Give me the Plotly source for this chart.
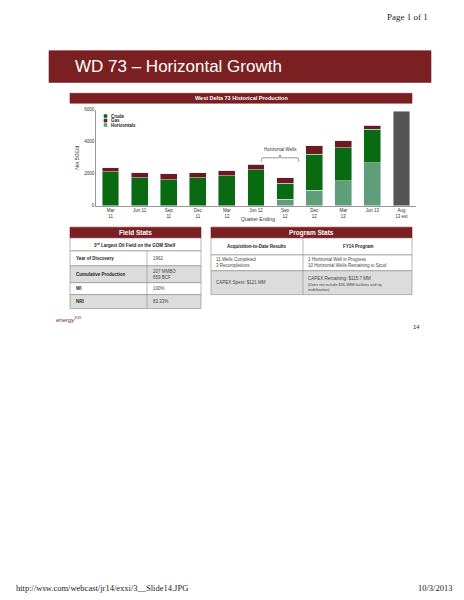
import plotly.graph_objects as go

W, H = 464, 600
quarters = ["Mar<br>11", "Jun 11", "Sep<br>11", "Dec<br>11", "Mar<br>12", "Jun 12", "Sep<br>12", "Dec<br>12", "Mar<br>13", "Jun 13", "Aug<br>13 est"]
horizontals = [0, 0, 0, 0, 0, 0, 390, 970, 1570, 2690, 0]
crude = [2110, 1760, 1635, 1760, 1860, 2240, 1020, 2260, 2070, 2110, 0]
gas = [270, 290, 355, 290, 330, 350, 330, 520, 440, 250, 0]
estimate = [0, 0, 0, 0, 0, 0, 0, 0, 0, 0, 5920]
y_ticks = [0, 2000, 4000, 6000]
COL = {"Crude": "#0a6a12", "Gas": "#6b1a1f", "Horizontals": "#5f9e7a"}

def px(x): return x / W
def py(y): return 1 - y / H

fig = go.Figure()
fig.add_bar(x=quarters, y=horizontals, name="Horizontals", marker_color=COL["Horizontals"])
fig.add_bar(x=quarters, y=crude, name="Crude", marker_color=COL["Crude"])
fig.add_bar(x=quarters, y=gas, name="Gas", marker_color=COL["Gas"])
fig.add_bar(x=quarters, y=estimate, name="Estimate", marker_color="#555555")

shapes, ann = [], []
def rect(x0, y0, x1, y1, color, line=None):
    shapes.append(dict(type="rect", xref="paper", yref="paper", x0=px(x0), x1=px(x1), y0=py(y1), y1=py(y0),
                       fillcolor=color, line=dict(color=line or color, width=0.6), layer="below"))
def text(x, y, s, size=5, color="#222", xanchor="left", bold=False, family="Arial, Liberation Sans"):
    if bold: s = "<b>" + s + "</b>"
    ann.append(dict(xref="paper", yref="paper", x=px(x), y=py(y), text=s, showarrow=False, xanchor=xanchor,
                    yanchor="middle", font=dict(size=size, color=color, family=family), align="left"))

# header
rect(41, 41, 423, 73, "#7a1f22")
text(65, 57, "WD 73 – Horizontal Growth", 17, "white")
text(422, 7, "Page 1 of 1", 9, "#222", "right", family="Liberation Serif")
# chart title
rect(62, 84, 404, 94, "#7a1f22")
text(233, 89, "West Delta 73 Historical Production", 5.5, "white", "center", True)
text(250, 211, "Quarter Ending", 5, "#333", "center")
# legend
for i, k in enumerate(["Crude", "Gas", "Horizontals"]):
    yy = 107 + i * 4.5
    rect(96, yy - 1.5, 99, yy + 1.5, COL[k])
    text(101, yy, k, 4.5, "#222", bold=True)
# bracket
shapes.append(dict(type="path", xref="paper", yref="paper",
                   path=f"M {px(253)},{py(153)} L {px(254)},{py(149)} L {px(271)},{py(149)} L {px(272)},{py(146)} L {px(273)},{py(149)} L {px(290)},{py(149)} L {px(291)},{py(153)}",
                   line=dict(color="#555", width=0.6)))
text(272, 141, "Horizontal Wells", 4.5, "#333", "center")

# Field stats
rect(62, 219, 193, 230, "#7a1f22")
text(127, 224.5, "Field Stats", 6.5, "white", "center", True)
rect(62, 230, 193, 243, "white", "#888")
text(127, 236.5, "3<sup>rd</sup> Largest Oil Field on the GOM Shelf", 4.5, "#222", "center", True)
rows = [("Year of Discovery", "1962", 243, 258, "white"),
        ("Cumulative Production", "207 MMBO<br>659 BCF", 258, 275, "#dcdcdc"),
        ("WI", "100%", 275, 287, "white"),
        ("NRI", "83.33%", 287, 301, "#dcdcdc")]
for a, b, y0, y1, c in rows:
    rect(62, y0, 193, y1, c, "#888")
    text(66, (y0 + y1) / 2, a, 4.5, "#222", bold=True)
    text(143, (y0 + y1) / 2, b, 4.5, "#444")
shapes.append(dict(type="line", xref="paper", yref="paper", x0=px(139), x1=px(139), y0=py(243), y1=py(301), line=dict(color="#888", width=0.6)))

# Program stats
rect(203, 219, 404, 230, "#7a1f22")
text(303, 224.5, "Program Stats", 6.5, "white", "center", True)
rect(203, 230, 404, 247, "white", "#888")
text(249, 238.5, "Acquisition-to-Date Results", 4.5, "#222", "center", True)
text(350, 238.5, "FY14 Program", 4.5, "#222", "center", True)
rect(203, 247, 404, 263, "white", "#888")
rect(203, 263, 404, 287, "#dcdcdc", "#888")
shapes.append(dict(type="line", xref="paper", yref="paper", x0=px(295), x1=px(295), y0=py(230), y1=py(287), line=dict(color="#888", width=0.6)))
text(206, 255, "11 Wells Completed<br>3 Recompletions", 4.5, "#444")
text(298, 255, "1 Horizontal Well in Progress<br>10 Horizontal Wells Remaining to Spud", 4.5, "#444")
text(206, 275, "CAPEX Spent: $121 MM", 4.5, "#444")
text(298, 271, "CAPEX Remaining: $115.7 MM", 4.5, "#444")
text(298, 280, "(Does not include $36.3MM facilities and rig<br>mobilization)", 3.8, "#444")

# logo, page number, footer
text(46, 312, "<i>energy</i><sup>XXI</sup>", 6, "#7a1f22")
text(414, 320, "14", 6, "#333", "right")
text(6, 583, "http://wsw.com/webcast/jr14/exxi/3__Slide14.JPG", 8.5, "#222", family="Liberation Serif")
text(446, 583, "10/3/2013", 8.5, "#222", "right", family="Liberation Serif")

fig.update_layout(
    width=W, height=H, margin=dict(l=0, r=0, t=0, b=0), paper_bgcolor="white", plot_bgcolor="white",
    barmode="stack", bargap=0.42, shapes=shapes, annotations=ann, showlegend=False,
    xaxis=dict(domain=[px(88), px(408)], tickfont=dict(size=4.5, color="#333"), showline=True, linecolor="#999", linewidth=0.6, ticks=""),
    yaxis=dict(domain=[py(197.3), py(100.7)], range=[0, 6000], tickvals=y_ticks, tickfont=dict(size=4.5, color="#333"),
               showgrid=False, showline=True, linecolor="#999", linewidth=0.6, zeroline=False,
               title=dict(text="Net BOE/d", font=dict(size=5, color="#333"), standoff=4)),
    font=dict(family="Arial, Liberation Sans"),
)
fig.write_html("out.html")
